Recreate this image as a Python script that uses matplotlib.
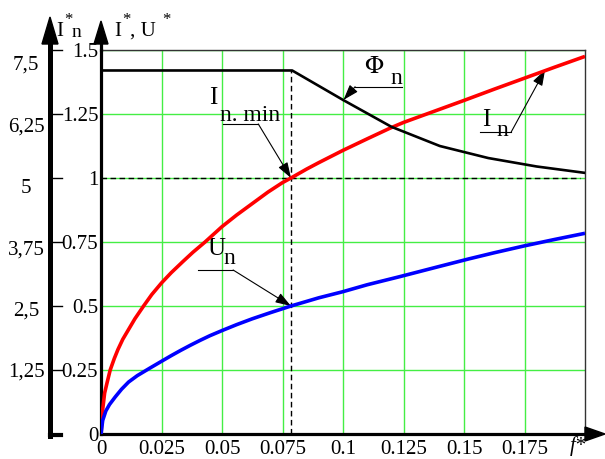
import matplotlib
matplotlib.use("Agg")
import matplotlib.pyplot as plt
from matplotlib.patches import Polygon
from matplotlib.lines import Line2D
from matplotlib.transforms import blended_transform_factory

plt.rcParams['font.family'] = ['Liberation Serif', 'DejaVu Serif']

# data
f_ticks = [0, 0.025, 0.05, 0.075, 0.1, 0.125, 0.15, 0.175]
f_labels = ['0', '0.025', '0.05', '0.075', '0.1', '0.125', '0.15', '0.175']
y_ticks = [0, 0.25, 0.5, 0.75, 1.0, 1.25, 1.5]
y_labels = ['0', '0.25', '0.5', '0.75', '1', '1.25', '1.5']
outer_values = [1.25, 2.5, 3.75, 5, 6.25, 7.5]
outer_labels = ['1,25', '2,5', '3,75', '5', '6,25', '7,5']

f_I = [0, 0.0005, 0.0015, 0.0025, 0.0038, 0.0055, 0.007, 0.009, 0.0115, 0.014,
       0.0176, 0.021, 0.025, 0.029, 0.034, 0.038, 0.043, 0.05, 0.056, 0.0625,
       0.069, 0.075, 0.0785, 0.085, 0.09, 0.1, 0.11, 0.1195, 0.125, 0.1375,
       0.15, 0.1625, 0.175, 0.1875, 0.2]
I_n = [0, 0.08, 0.16, 0.2, 0.25, 0.295, 0.33, 0.37, 0.41, 0.45,
       0.5, 0.545, 0.59, 0.63, 0.675, 0.71, 0.75, 0.81, 0.855, 0.9,
       0.945, 0.982, 1.0, 1.035, 1.06, 1.108, 1.153, 1.195, 1.217, 1.26,
       1.303, 1.347, 1.39, 1.433, 1.475]

f_U = [0, 0.0007, 0.002, 0.0035, 0.0059, 0.0085, 0.0114, 0.015, 0.0203, 0.025,
       0.029, 0.033, 0.037, 0.041, 0.045, 0.05, 0.056, 0.0625, 0.07, 0.0785,
       0.09, 0.1, 0.11, 0.1236, 0.14, 0.152, 0.1625, 0.175, 0.1875, 0.2]
U_n = [0, 0.053, 0.09, 0.115, 0.145, 0.175, 0.203, 0.228, 0.258, 0.284,
       0.306, 0.327, 0.347, 0.366, 0.384, 0.404, 0.427, 0.45, 0.474, 0.5,
       0.532, 0.556, 0.583, 0.615, 0.655, 0.684, 0.708, 0.735, 0.76, 0.784]

f_phi = [0, 0.079, 0.1, 0.12, 0.14, 0.16, 0.18, 0.2]
Phi_n = [1.42, 1.42, 1.305, 1.20, 1.125, 1.078, 1.045, 1.02]

f_min = 0.0785          # I_n = 1 point
U_at_min = 0.5
I_arrow = (0.1835, 1.422)
Phi_arrow = (0.1002, 1.305)
outer_top = 7.5 / 1.441  # outer scale value that sits at inner y = 1

W, H = 605, 459
fig = plt.figure(figsize=(W / 100, H / 100), dpi=100)
ax = fig.add_axes([101 / W, 25 / H, 484 / W, 384 / H])


def px(x, y):
    return (x / W, 1 - y / H)


ax.set_xlim(0, 0.2)
ax.set_ylim(0, 1.5)
ax.set_xticks(f_ticks)
ax.set_xticklabels(f_labels)
ax.set_yticks(y_ticks)
ax.set_yticklabels(y_labels)
ax.tick_params(length=0, labelsize=15)
ax.tick_params(axis='x', pad=4)
ax.tick_params(axis='y', pad=2)
ax.grid(color='#44ee44', lw=1.0)
ax.set_axisbelow(True)
for s in ['left', 'bottom']:
    ax.spines[s].set_linewidth(2.3)
for s in ['top', 'right']:
    ax.spines[s].set_linewidth(1.0)
    ax.spines[s].set_color('#333333')

# curves
ax.plot(f_I, I_n, color='#ff0000', lw=2.6, solid_capstyle='butt', zorder=4)
ax.plot(f_U, U_n, color='#0000ff', lw=2.6, solid_capstyle='butt', zorder=4)
ax.plot(f_phi, Phi_n, color='black', lw=1.9, zorder=4)

# dashed reference lines
ax.plot([0, 0.198], [1, 1], color='black', lw=1.0, dashes=(4, 2.5), zorder=3)
ax.plot([f_min, f_min], [0, Phi_n[0]], color='black', lw=1.0, dashes=(4, 2.5), zorder=3)

# callouts
arr = dict(arrowstyle='-|>,head_length=0.95,head_width=0.32', color='black',
           lw=0.8, shrinkA=0, shrinkB=0, mutation_scale=10)
big = 18
ax.text(0.1129, 1.4355, r'$\Phi$', fontsize=big, ha='center', va='center',
        math_fontfamily='stix')
ax.text(0.1222, 1.39, 'n', fontsize=big - 1, ha='center', va='center')
ax.plot([0.105, 0.1244], [1.3566, 1.3566], color='black', lw=0.8, clip_on=False)
ax.annotate('', xy=Phi_arrow, xytext=(0.105, 1.3566), arrowprops=arr)

ax.text(0.0462, 1.314, 'I', fontsize=big, ha='center', va='center')
ax.text(0.0493, 1.246, 'n. min', fontsize=big - 1, ha='left', va='center')
ax.plot([0.0505, 0.065], [1.211, 1.211], color='black', lw=0.8)
ax.annotate('', xy=(f_min, 1.0), xytext=(0.065, 1.211), arrowprops=arr)

ax.text(0.0476, 0.7246, 'U', fontsize=big, ha='center', va='center')
ax.text(0.053, 0.6875, 'n', fontsize=big - 1, ha='center', va='center')
ax.plot([0.0402, 0.0546], [0.6406, 0.6406], color='black', lw=0.8)
ax.annotate('', xy=(f_min, U_at_min), xytext=(0.0546, 0.6406), arrowprops=arr)

ax.text(0.1594, 1.2285, 'I', fontsize=big, ha='center', va='center')
ax.text(0.1658, 1.1875, 'n', fontsize=big - 1, ha='center', va='center')
ax.plot([0.1567, 0.1695], [1.1797, 1.1797], color='black', lw=0.8)
ax.annotate('', xy=I_arrow, xytext=(0.1695, 1.1797), arrowprops=arr)

# inner axis arrows
fig.add_artist(Line2D([px(101, 50)[0], px(101, 42)[0]], [px(101, 50)[1], px(101, 42)[1]],
                      transform=fig.transFigure, color='black', lw=2.3))
fig.add_artist(Polygon([px(94, 44), px(108, 44), px(101, 21)], closed=True,
                       transform=fig.transFigure, color='black'))
fig.add_artist(Polygon([px(585, 427), px(585, 441), px(605, 434)], closed=True,
                       transform=fig.transFigure, color='black'))

# outer I*_n axis
xo = 50 / W
fig.add_artist(Line2D([xo, xo], [px(0, 436)[1], px(0, 42)[1]],
                      transform=fig.transFigure, color='black', lw=3.6))
fig.add_artist(Line2D([xo, 61 / W], [px(0, 434.5)[1]] * 2,
                      transform=fig.transFigure, color='black', lw=3.0))
fig.add_artist(Polygon([px(42, 44), px(58, 44), px(50, 17)], closed=True,
                       transform=fig.transFigure, color='black'))
bt = blended_transform_factory(fig.transFigure, ax.transData)
for yv in y_ticks[1:]:
    ax.plot([xo, 62 / W], [yv, yv], transform=bt, color='black', lw=1.0, clip_on=False)
for v, lab in zip(outer_values, outer_labels):
    ax.text(26 / W, v / outer_top, lab, transform=bt, fontsize=15,
            ha='center', va='center')

# axis titles
fig.text(*px(56, 36), 'I', fontsize=15, ha='left', va='baseline')
fig.text(*px(64, 24), '*', fontsize=12, ha='left', va='baseline')
fig.text(*px(72, 37), 'n', fontsize=14, ha='left', va='baseline')
fig.text(*px(114, 36), 'I', fontsize=15, ha='left', va='baseline')
fig.text(*px(122, 24), '*', fontsize=12, ha='left', va='baseline')
fig.text(*px(130, 36), ', U', fontsize=15, ha='left', va='baseline')
fig.text(*px(162, 24), '*', fontsize=12, ha='left', va='baseline')
fig.text(*px(570, 446), 'f*', fontsize=15, ha='left', va='center', style='italic')

fig.savefig('out.png', dpi=100)
